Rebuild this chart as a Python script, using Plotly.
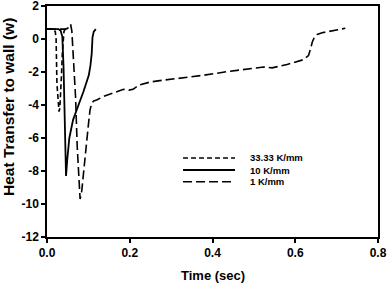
import plotly.graph_objects as go

# 33.33 K/mm
t33 = [0, 0.015, 0.020, 0.022, 0.024, 0.027, 0.029, 0.031, 0.033, 0.035, 0.037, 0.039, 0.041, 0.044, 0.048]
y33 = [0.6, 0.6, 0.45, 0.0, -2.7, -4.0, -4.4, -4.2, -3.5, -2.2, -0.9, 0.0, 0.45, 0.6, 0.6]

# 10 K/mm
t10 = [0, 0.028, 0.033, 0.037, 0.040, 0.042, 0.044, 0.046, 0.049, 0.054, 0.063, 0.071, 0.079,
       0.088, 0.095, 0.101, 0.105, 0.108, 0.110, 0.113, 0.118]
y10 = [0.6, 0.6, 0.5, 0.15, -1.7, -4.0, -6.8, -8.3, -7.3, -6.0, -4.9, -4.3, -3.8,
       -3.2, -2.7, -2.2, -1.6, -0.9, 0.1, 0.45, 0.6]

# 1 K/mm
t1 = [0, 0.045, 0.050, 0.054, 0.057, 0.060, 0.064, 0.069, 0.073, 0.077, 0.080, 0.084, 0.089,
      0.095, 0.100, 0.104, 0.108, 0.113, 0.120, 0.135, 0.152, 0.170, 0.185, 0.198, 0.208, 0.222,
      0.250, 0.280, 0.330, 0.378, 0.443, 0.490, 0.524, 0.544, 0.580, 0.620, 0.632, 0.637, 0.641,
      0.646, 0.653, 0.665, 0.677, 0.700, 0.721]
y1 = [0.6, 0.6, 0.65, 0.8, 0.9, 0.5, -1.0, -3.5, -6.5, -8.8, -9.7, -9.2, -7.8,
      -6.3, -5.2, -4.3, -3.9, -3.75, -3.7, -3.5, -3.35, -3.15, -3.05, -3.1, -3.05, -2.8,
      -2.6, -2.5, -2.35, -2.2, -1.95, -1.8, -1.7, -1.75, -1.55, -1.25, -1.0, -0.6, -0.2,
      0.1, 0.28, 0.38, 0.45, 0.55, 0.65]

series_names = ["33.33 K/mm", "10 K/mm", "1 K/mm"]
x_ticks = [0.0, 0.2, 0.4, 0.6, 0.8]
x_tick_labels = ["0.0", "0.2", "0.4", "0.6", "0.8"]
y_ticks = [-12, -10, -8, -6, -4, -2, 0, 2]
y_tick_labels = ["-12", "-10", "-8", "-6", "-4", "-2", "0", "2"]
x_title = "Time (sec)"
y_title = "Heat Transfer to wall (w)"

dashes = ["5px,3px", "solid", "9px,4px"]
widths = [1.6, 1.8, 1.6]
FONT = "Liberation Sans"

fig = go.Figure()
for t, y, name, d, w in zip([t33, t10, t1], [y33, y10, y1], series_names, dashes, widths):
    fig.add_trace(go.Scatter(x=t, y=y, mode="lines", name=name,
                             line=dict(color="black", width=w, dash=d)))

# manual legend
leg_y = [0.342, 0.290, 0.239]
for name, d, w, ly in zip(series_names, dashes, widths, leg_y):
    fig.add_shape(type="line", xref="paper", yref="paper", x0=0.411, x1=0.568, y0=ly, y1=ly,
                  line=dict(color="black", width=w, dash=d))
    fig.add_annotation(xref="paper", yref="paper", x=0.607, y=ly, text="<b>" + name + "</b>",
                       showarrow=False, xanchor="left", yanchor="middle",
                       font=dict(size=9.5, color="black", family=FONT))

# axis titles
fig.add_annotation(xref="paper", yref="paper", x=0.5, y=(237 - 275) / 231,
                   text="<b>" + x_title + "</b>", showarrow=False,
                   xanchor="center", yanchor="middle",
                   font=dict(size=13, color="black", family=FONT))
fig.add_annotation(xref="paper", yref="paper", x=(9 - 47) / 331, y=(237 - 107) / 231,
                   text="<b>" + y_title + "</b>", showarrow=False, textangle=-90,
                   xanchor="center", yanchor="middle",
                   font=dict(size=15.5, color="black", family=FONT))

fig.update_layout(
    width=387, height=284,
    margin=dict(l=47, r=9, t=6, b=47, autoexpand=False),
    paper_bgcolor="white", plot_bgcolor="white",
    showlegend=False,
    font=dict(family=FONT, color="black", size=12),
)
fig.update_xaxes(range=[0, 0.8], tickvals=x_ticks,
                 ticktext=["<b>" + s + "</b>" for s in x_tick_labels],
                 showgrid=False, zeroline=False, showline=True, linecolor="black", linewidth=1.5,
                 mirror=True, ticks="outside", ticklen=4, tickcolor="black", tickwidth=1.5,
                 automargin=False, ticklabeloverflow="allow",
                 tickfont=dict(size=12, family=FONT, color="black"))
fig.update_yaxes(range=[-12, 2], tickvals=y_ticks,
                 ticktext=["<b>" + s + "</b>" for s in y_tick_labels],
                 showgrid=False, zeroline=False, showline=True, linecolor="black", linewidth=1.5,
                 mirror=True, ticks="outside", ticklen=4, tickcolor="black", tickwidth=1.5,
                 automargin=False, ticklabeloverflow="allow",
                 tickfont=dict(size=12, family=FONT, color="black"))

fig.write_html("out.html", config={"displayModeBar": False},
               post_script="document.body.style.margin='0';")
